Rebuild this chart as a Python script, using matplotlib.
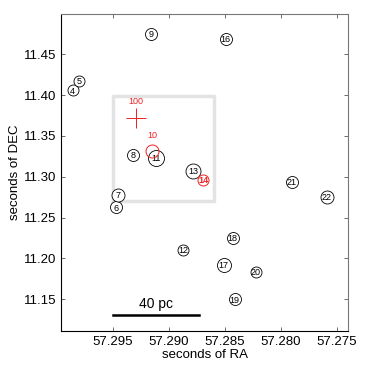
import numpy as np
import matplotlib
matplotlib.use('Agg')
import matplotlib.pyplot as plt

plt.rcParams['font.family'] = ['Liberation Sans', 'DejaVu Sans']

# sources: id, RA seconds, DEC seconds, circle diameter (px)
ids = ['4', '5', '6', '7', '8', '9', '11', '12', '13', '16', '17', '18', '19', '20', '21', '22']
ra = [57.2986, 57.2980, 57.2947, 57.2945, 57.2932, 57.2916, 57.2911, 57.2887,
      57.2878, 57.2849, 57.2851, 57.2843, 57.2841, 57.2822, 57.2790, 57.2759]
dec = [11.4059, 11.4173, 11.2625, 11.2776, 11.3266, 11.475, 11.3233, 11.2102,
       11.3074, 11.469, 11.1918, 11.2249, 11.150, 11.1836, 11.2939, 11.2755]
diam = [11, 11, 12, 13, 12, 12, 16, 11, 15, 12, 14, 12, 12, 11, 12, 13]

# red objects
src14 = (57.2869, 11.296)
src10 = (57.2915, 11.3319)
src100 = (57.2929, 11.3716)

# boxed region and scale bar
box_ra = [57.295, 57.2860]
box_dec = [11.2706, 11.399]
bar_ra = [57.295, 57.2873]
bar_dec = 11.1305

fig = plt.figure(figsize=(3.74, 3.68), dpi=100)
ax = fig.add_axes([0.164, 0.1005, 0.766, 0.8605])

ax.plot([box_ra[0], box_ra[1], box_ra[1], box_ra[0], box_ra[0]],
        [box_dec[0], box_dec[0], box_dec[1], box_dec[1], box_dec[0]],
        color='#e3e3e3', lw=2.5, zorder=1)

px2pt = 72 / 100
for i in range(len(ids)):
    ax.plot(ra[i], dec[i], 'o', mfc='white', mec='black', mew=0.6,
            ms=diam[i] * px2pt, zorder=3)
    ax.text(ra[i], dec[i] - 0.001, ids[i], fontsize=6.5, ha='center', va='center', zorder=4)

ax.plot(*src14, 'o', mfc='white', mec='#ee2222', mew=0.7, ms=11 * px2pt, zorder=3)
ax.text(src14[0], src14[1] - 0.001, '14', fontsize=6.5, color='#ee2222', ha='center', va='center',
        fontweight='bold', zorder=4)

ax.plot(*src10, 'o', mfc='none', mec='#ee2222', mew=0.7, ms=13 * px2pt, zorder=5)
ax.text(src10[0], src10[1] + 0.019, '10', fontsize=6.5, color='#ee2222', ha='center', va='center')

ax.plot(*src100, '+', color='#ee2222', mew=0.7, ms=20 * px2pt, zorder=3)
ax.text(src100[0], src100[1] + 0.021, '100', fontsize=6.5, color='#ee2222', ha='center', va='center')

ax.plot(bar_ra, [bar_dec, bar_dec], color='black', lw=1.8)
ax.text(np.mean(bar_ra), bar_dec + 0.005, '40 pc', fontsize=10, ha='center', va='bottom')

ax.set_xlim(57.2996, 57.2740)
ax.set_ylim(11.111, 11.499)
ax.set_xticks([57.295, 57.290, 57.285, 57.280, 57.275])
ax.set_xticklabels(['57.295', '57.290', '57.285', '57.280', '57.275'])
ax.set_yticks([11.15, 11.20, 11.25, 11.30, 11.35, 11.40, 11.45])
ax.set_yticklabels(['11.15', '11.20', '11.25', '11.30', '11.35', '11.40', '11.45'])
ax.tick_params(direction='in', top=True, right=True, length=3, width=0.6,
               labelsize=9.5, color='#555555')
for s in ['top', 'right']:
    ax.spines[s].set_color('#777777')
for s in ['left', 'bottom']:
    ax.spines[s].set_color('black')
for s in ax.spines.values():
    s.set_linewidth(0.8)

ax.set_xlabel('seconds of RA', fontsize=9.5, labelpad=1)
ax.set_ylabel('seconds of DEC', fontsize=9.5, labelpad=2)

fig.savefig('out.png', dpi=100)
